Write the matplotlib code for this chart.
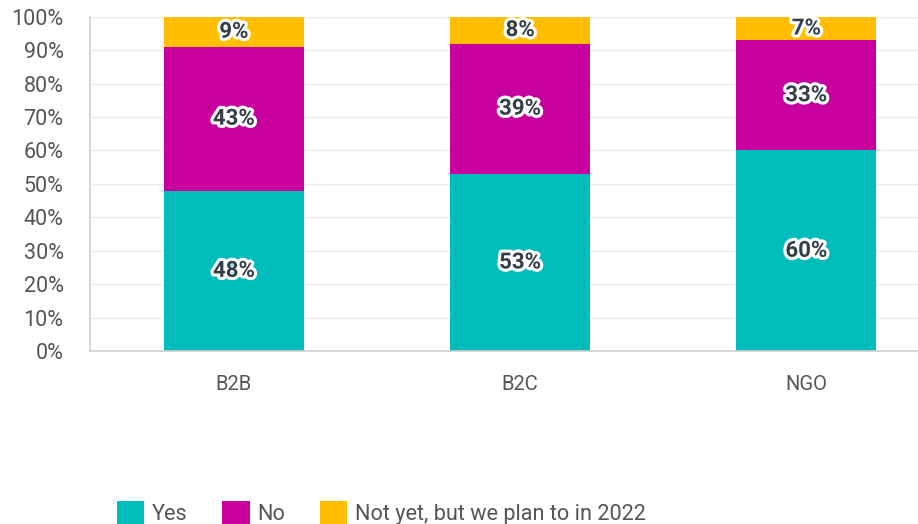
import matplotlib.pyplot as plt
import matplotlib.patheffects as pe
from matplotlib.patches import Patch

plt.rcParams['font.family'] = ['Roboto', 'DejaVu Sans']

groups = ['B2B', 'B2C', 'NGO']
yes = [48, 53, 60]
no = [43, 39, 33]
not_yet = [9, 8, 7]
series_names = ['Yes', 'No', 'Not yet, but we plan to in 2022']
colors = ['#00BDBB', '#C8009E', '#FFBF00']

fig = plt.figure(figsize=(9.18, 5.24), dpi=100)
ax = fig.add_axes([0.098, 0.330, 0.902, 0.638])

x = list(range(len(groups)))
bottom = [0] * len(groups)
outline = [pe.withStroke(linewidth=4.5, foreground='white')]
for vals, color in zip([yes, no, not_yet], colors):
    ax.bar(x, vals, width=0.49, bottom=bottom, color=color, zorder=2)
    for xi, b, v in zip(x, bottom, vals):
        ax.text(xi, b + v / 2, f'{v}%', ha='center', va='center',
                fontsize=16, fontweight='bold', color='#333E48',
                path_effects=outline, zorder=3)
    bottom = [b + v for b, v in zip(bottom, vals)]

ax.set_xlim(-0.503, 2.39)
ax.set_ylim(0, 100)
ax.set_yticks(range(0, 101, 10))
ax.set_yticklabels([f'{t}%' for t in range(0, 101, 10)])
ax.set_xticks(x)
ax.set_xticklabels(groups)
ax.tick_params(axis='both', length=0, colors='#555555')
ax.tick_params(axis='y', labelsize=15.5, pad=19)
ax.tick_params(axis='x', labelsize=14.5, pad=17)
ax.grid(axis='y', color='#EBEBEB', linewidth=1, zorder=0)
for side in ['top', 'right']:
    ax.spines[side].set_visible(False)
for side in ['left', 'bottom']:
    ax.spines[side].set_color('#D0D0D0')
    ax.spines[side].set_linewidth(1.2)

handles = [Patch(facecolor=c, edgecolor='none') for c in colors]
fig.legend(handles, series_names, loc='center left', bbox_to_anchor=(0.1275, 0.021),
           ncol=3, frameon=False, fontsize=15.6, labelcolor='#555555',
           borderaxespad=0, borderpad=0,
           handlelength=1.25, handleheight=1.25, handletextpad=0.37, columnspacing=1.6)

fig.savefig('out.png', dpi=100)
